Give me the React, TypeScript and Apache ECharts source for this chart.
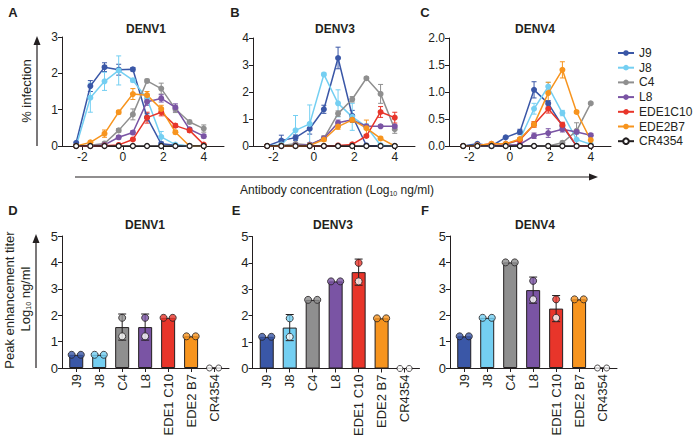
import React, { useEffect, useRef } from 'react';
import * as echarts from 'echarts';

const FONT = '"Liberation Sans", Arial, Helvetica, sans-serif';
const INK = '#231F20';

// log10 ng/ml, 5-fold dilution series
const concentrations = [-2.3, -1.6, -0.9, -0.2, 0.5, 1.2, 1.9, 2.6, 3.3, 4.0];
const antibodies = ['J9', 'J8', 'C4', 'L8', 'EDE1C10', 'EDE2B7', 'CR4354'];
const barCategories = ['J9', 'J8', 'C4', 'L8', 'EDE1 C10', 'EDE2 B7', 'CR4354'];
const antibodyColors = ['#3A57A7', '#74CFF2', '#8F8F8F', '#7A54A4', '#E8352A', '#F7941E', '#231F20'];

// % infection (rows follow antibodies order)
const denv1Infection = [
  [0.09, 1.65, 2.17, 2.10, 2.11, 0.79, 0.06, 0.02, 0, 0.01],
  [0, 1.33, 1.78, 2.08, 1.81, 1.30, 0.25, 0.04, 0, 0],
  [0, 0.02, 0.07, 0.43, 0.87, 1.79, 1.58, 1.02, 0.66, 0.48],
  [0, 0, 0.03, 0.24, 0.37, 1.22, 1.31, 1.06, 0.46, 0.27],
  [0, 0, 0.01, 0.03, 0.18, 0.78, 0.93, 0.56, 0.43, 0.04],
  [0, 0.1, 0.34, 0.93, 1.43, 1.40, 1.02, 0.38, 0, 0],
  [0, 0, 0, 0, 0, 0, 0, 0, 0, 0],
];
const denv1Sd = [
  [0, 0.15, 0.12, 0.15, 0.05, 0.1, 0.05, 0, 0, 0],
  [0, 0.4, 0.25, 0.4, 0.05, 0.1, 0.15, 0, 0, 0],
  [0, 0, 0.03, 0.05, 0.15, 0.05, 0.15, 0.1, 0.05, 0.1],
  [0, 0, 0, 0.05, 0.05, 0.1, 0.1, 0.1, 0.05, 0.05],
  [0, 0, 0, 0, 0.03, 0.15, 0.1, 0.05, 0.05, 0],
  [0, 0.03, 0.1, 0.05, 0.15, 0.1, 0.1, 0.05, 0, 0],
  [0, 0, 0, 0, 0, 0, 0, 0, 0, 0],
];
const denv3Infection = [
  [0, 0.2, 0.31, 0.64, 1.36, 3.26, 1.12, 0.02, 0, 0],
  [0, 0.05, 0.58, 0.82, 2.65, 1.58, 1.08, 0.72, 0.03, 0],
  [0, 0.02, 0.08, 0.04, 0.28, 1.2, 1.73, 2.51, 1.93, 0.62],
  [0, 0, 0.02, 0.05, 0.28, 0.86, 0.97, 0.73, 0.73, 0.73],
  [0, 0, 0, 0, 0, 0.02, 0.06, 0.37, 1.26, 1.05],
  [0, 0, 0, 0.02, 0.24, 0.72, 0.97, 0.66, 0.28, 0],
  [0, 0, 0, 0, 0, 0, 0, 0, 0, 0],
];
const denv3Sd = [
  [0, 0.2, 0.1, 0.2, 0.15, 0.4, 0.2, 0, 0, 0],
  [0, 0.1, 0.55, 0.7, 0.05, 0.5, 0.5, 0.1, 0, 0],
  [0, 0, 0.05, 0.05, 0.1, 0.1, 0.1, 0.05, 0.35, 0.15],
  [0, 0, 0, 0, 0.05, 0.1, 0.05, 0.05, 0.05, 0.05],
  [0, 0, 0, 0, 0, 0, 0.03, 0.05, 0.2, 0.2],
  [0, 0, 0, 0, 0.05, 0.1, 0.1, 0.3, 0.05, 0],
  [0, 0, 0, 0, 0, 0, 0, 0, 0, 0],
];
const denv4Infection = [
  [0, 0.04, 0, 0.16, 0.26, 1.04, 0.79, 0.37, 0, 0],
  [0, 0.01, 0, 0.02, 0.12, 0.69, 1.1, 0.61, 0.12, 0.03],
  [0, 0, 0, 0.02, 0, 0, 0, 0.06, 0.28, 0.79],
  [0, 0, 0, 0.01, 0.03, 0.19, 0.24, 0.31, 0.26, 0.2],
  [0, 0.01, 0.04, 0.04, 0.11, 0.4, 0.69, 0.39, 0, 0],
  [0, 0.01, 0.04, 0.04, 0.13, 0.4, 0.98, 1.41, 0.63, 0.11],
  [0, 0, 0, 0, 0, 0, 0, 0, 0, 0],
];
const denv4Sd = [
  [0, 0, 0, 0.02, 0.05, 0.15, 0.05, 0.05, 0, 0],
  [0, 0, 0, 0, 0.02, 0.1, 0.08, 0.05, 0.1, 0.02],
  [0, 0, 0, 0, 0, 0, 0, 0.03, 0.15, 0.02],
  [0, 0, 0, 0, 0.02, 0.05, 0.08, 0.05, 0.03, 0.03],
  [0, 0, 0, 0, 0.02, 0.05, 0.08, 0.05, 0, 0],
  [0, 0, 0, 0, 0.02, 0.05, 0.2, 0.15, 0.03, 0],
  [0, 0, 0, 0, 0, 0, 0, 0, 0, 0],
];

// Peak enhancement titer replicates (log10 ng/ml), rows follow barCategories
const denv1Titers = [[0.5, 0.5], [0.5, 0.5], [1.9, 1.2], [1.9, 1.2], [1.9, 1.9], [1.2, 1.2], [0, 0]];
const denv3Titers = [[1.2, 1.2], [1.9, 1.2], [2.6, 2.6], [3.3, 3.3], [4.0, 3.3], [1.9, 1.9], [0, 0]];
const denv4Titers = [[1.2, 1.2], [1.9, 1.9], [4.0, 4.0], [3.3, 2.6], [2.6, 1.9], [2.6, 2.6], [0, 0]];

const xTicks = [-2, 0, 2, 4];
const topMax = [3, 4, 2];
const topInterval = [1, 1, 0.5];

const mean = (a: number[]) => a.reduce((s, v) => s + v, 0) / a.length;
const sd = (a: number[]) => {
  const m = mean(a);
  return Math.sqrt(a.reduce((s, v) => s + (v - m) * (v - m), 0) / (a.length - 1));
};

function errRender(colorOf: (i: number) => string, capHalf: number, clip0: boolean) {
  return (params: any, api: any) => {
    const x = api.value(0);
    const y = api.value(1);
    const e = api.value(2);
    const color = colorOf(api.value(3));
    const lo = clip0 ? Math.max(0, y - e) : y - e;
    const top = api.coord([x, y + e]);
    const bot = api.coord([x, lo]);
    const st = { stroke: color, lineWidth: 1 };
    return {
      type: 'group',
      children: [
        { type: 'line', shape: { x1: top[0], y1: top[1], x2: bot[0], y2: bot[1] }, style: st },
        { type: 'line', shape: { x1: top[0] - capHalf, y1: top[1], x2: top[0] + capHalf, y2: top[1] }, style: st },
        { type: 'line', shape: { x1: bot[0] - capHalf, y1: bot[1], x2: bot[0] + capHalf, y2: bot[1] }, style: st },
      ],
    };
  };
}

function txt(x: number, y: number, text: string, size: number, bold = false, rotation = 0, extra: any = {}) {
  return {
    type: 'text',
    x,
    y,
    rotation,
    style: {
      text,
      fill: INK,
      fontSize: size,
      fontWeight: bold ? 'bold' : 'normal',
      fontFamily: FONT,
      align: 'center',
      verticalAlign: 'middle',
      textAlign: 'center',
      textVerticalAlign: 'middle',
      ...extra,
    },
  };
}

function arrowV(x: number, yBottom: number, yTop: number) {
  return [
    { type: 'line', shape: { x1: x, y1: yBottom, x2: x, y2: yTop + 6 }, style: { stroke: INK, lineWidth: 1.2 } },
    { type: 'polygon', shape: { points: [[x, yTop], [x - 3.5, yTop + 9], [x + 3.5, yTop + 9]] }, style: { fill: INK } },
  ];
}
function arrowH(y: number, xLeft: number, xRight: number) {
  return [
    { type: 'line', shape: { x1: xLeft, y1: y, x2: xRight - 6, y2: y }, style: { stroke: INK, lineWidth: 1.2 } },
    { type: 'polygon', shape: { points: [[xRight, y], [xRight - 9, y - 3.5], [xRight - 9, y + 3.5]] }, style: { fill: INK } },
  ];
}

export default function App() {
  const ref = useRef<HTMLDivElement>(null);
  useEffect(() => {
    document.body.style.margin = '0';
    if (!ref.current) return;
    const chart = echarts.init(ref.current, undefined, { renderer: 'svg' });

    const topGrids = [
      { left: 62, top: 37, width: 162, height: 109 },
      { left: 253, top: 38, width: 162, height: 108 },
      { left: 449, top: 38, width: 162, height: 108 },
    ];
    const botGrids = [
      { left: 62, top: 236, width: 167, height: 132 },
      { left: 252.5, top: 236.5, width: 167, height: 132 },
      { left: 450, top: 236, width: 167, height: 132 },
    ];
    const axisLine = { show: true, onZero: false, lineStyle: { color: INK, width: 1 } };
    const axisTick = { show: true, length: 4, lineStyle: { color: INK, width: 1 } };
    const labelBase = { color: INK, fontSize: 12, fontFamily: FONT };

    const xAxes: any[] = [];
    const yAxes: any[] = [];
    topGrids.forEach((_, i) => {
      xAxes.push({
        gridIndex: i, type: 'value', min: -3, max: 5,
        axisLine, axisTick: { ...axisTick, customValues: xTicks },
        axisLabel: { ...labelBase, customValues: xTicks, margin: 5 },
        splitLine: { show: false },
      });
      yAxes.push({
        gridIndex: i, type: 'value', min: 0, max: topMax[i], interval: topInterval[i],
        axisLine, axisTick,
        axisLabel: { ...labelBase, margin: 4, formatter: (v: number) => (i === 2 ? v.toFixed(1) : String(v)) },
        splitLine: { show: false },
      });
    });
    const catIdx = barCategories.map((_, i) => i);
    botGrids.forEach((_, i) => {
      xAxes.push({
        gridIndex: 3 + i, type: 'value', min: -0.62, max: 6.65,
        axisLine, axisTick: { ...axisTick, customValues: catIdx },
        axisLabel: { ...labelBase, fontSize: 13, customValues: catIdx, rotate: 90, margin: 6, formatter: (v: number) => barCategories[Math.round(v)] },
        splitLine: { show: false },
      });
      yAxes.push({
        gridIndex: 3 + i, type: 'value', min: 0, max: 5, interval: 1,
        axisLine, axisTick,
        axisLabel: { ...labelBase, fontSize: 13, margin: 4 },
        splitLine: { show: false },
      });
    });

    const series: any[] = [];
    const infection = [denv1Infection, denv3Infection, denv4Infection];
    const infectionSd = [denv1Sd, denv3Sd, denv4Sd];
    infection.forEach((panel, p) => {
      const errData: number[][] = [];
      panel.forEach((vals, s) => {
        vals.forEach((v, k) => {
          const e = infectionSd[p][s][k];
          if (e > 0) errData.push([concentrations[k], v, e, s]);
        });
      });
      series.push({
        type: 'custom', xAxisIndex: p, yAxisIndex: p, data: errData,
        encode: { x: 0, y: 1 }, silent: true, z: 1,
        renderItem: errRender((i) => antibodyColors[i], 2.5, true),
      });
      panel.forEach((vals, s) => {
        const isCtrl = s === 6;
        series.push({
          type: 'line', name: antibodies[s], xAxisIndex: p, yAxisIndex: p,
          data: concentrations.map((x, k) => [x, vals[k]]),
          symbol: 'circle', symbolSize: isCtrl ? 5 : 6, showSymbol: true,
          lineStyle: { color: antibodyColors[s], width: 1.5 },
          itemStyle: isCtrl
            ? { color: '#ffffff', borderColor: INK, borderWidth: 1.3 }
            : { color: antibodyColors[s] },
          z: 3,
        });
      });
    });

    const titers = [denv1Titers, denv3Titers, denv4Titers];
    titers.forEach((panel, q) => {
      const g = 3 + q;
      const means = panel.map(mean);
      series.push({
        type: 'bar', xAxisIndex: g, yAxisIndex: g, barWidth: 14,
        data: means.map((m, i) => ({ value: [i, m], itemStyle: { color: antibodyColors[i], borderColor: INK, borderWidth: 1 } })),
        z: 2,
      });
      series.push({
        type: 'custom', xAxisIndex: g, yAxisIndex: g,
        data: panel.map((r, i) => [i, mean(r), sd(r), i]).filter((d) => d[2] > 0),
        encode: { x: 0, y: 1 }, silent: true, z: 3,
        renderItem: errRender(() => INK, 4, false),
      });
      const dots: any[] = [];
      panel.forEach((r, i) => {
        const same = r[0] === r[1];
        r.forEach((v, j) => {
          const off = same ? (j === 0 ? -0.2 : 0.2) : 0;
          const hollow = i === 6 || (!same && v < mean(r));
          dots.push({
            value: [i + off, v],
            itemStyle: { color: hollow ? '#ffffff' : antibodyColors[i], borderColor: INK, borderWidth: 1 },
            symbolSize: i === 6 ? 6 : 7,
          });
        });
      });
      series.push({
        type: 'scatter', xAxisIndex: g, yAxisIndex: g, data: dots, symbol: 'circle', z: 4,
      });
    });

    const graphic: any[] = [
      txt(13, 12, 'A', 13, true), txt(235, 12, 'B', 13, true), txt(425, 12, 'C', 13, true),
      txt(13, 210, 'D', 13, true), txt(236, 210, 'E', 13, true), txt(425, 210, 'F', 13, true),
      txt(146, 29, 'DENV1', 12, true), txt(335, 29, 'DENV3', 12, true), txt(535, 29, 'DENV4', 12, true),
      txt(145, 225, 'DENV1', 12, true), txt(333, 225, 'DENV3', 12, true), txt(535, 225, 'DENV4', 12, true),
      txt(26, 91, '% infection', 13, false, Math.PI / 2),
      ...arrowV(37, 146, 36),
      ...arrowH(177, 75, 598),
      txt(337, 190, '{a|Antibody concentration (Log}{s|10}{a| ng/ml)}', 12, false, 0, {
        rich: { a: { fontSize: 12, fontFamily: FONT, fill: INK, lineHeight: 14 }, s: { fontSize: 7, fontFamily: FONT, fill: INK, lineHeight: 14, padding: [7, 0, 0, 0] } },
      }),
      txt(9, 300, 'Peak enhancement titer', 13, false, Math.PI / 2),
      txt(25, 299, '{a|Log}{s|10}{a| ng/ml}', 13, false, Math.PI / 2, {
        rich: { a: { fontSize: 13, fontFamily: FONT, fill: INK, lineHeight: 15 }, s: { fontSize: 7, fontFamily: FONT, fill: INK, lineHeight: 15, padding: [7, 0, 0, 0] } },
      }),
      ...arrowV(36, 368, 234),
    ];

    chart.setOption({
      animation: false,
      grid: [...topGrids, ...botGrids],
      xAxis: xAxes,
      yAxis: yAxes,
      legend: {
        data: antibodies, orient: 'vertical', left: 612, top: 42,
        itemWidth: 16, itemHeight: 7, itemGap: 2.7, selectedMode: false,
        textStyle: { color: INK, fontSize: 12, fontFamily: FONT, lineHeight: 12 },
      },
      series,
      graphic,
    });
    return () => chart.dispose();
  }, []);
  return <div ref={ref} style={{ width: 696, height: 441 }} />;
}
